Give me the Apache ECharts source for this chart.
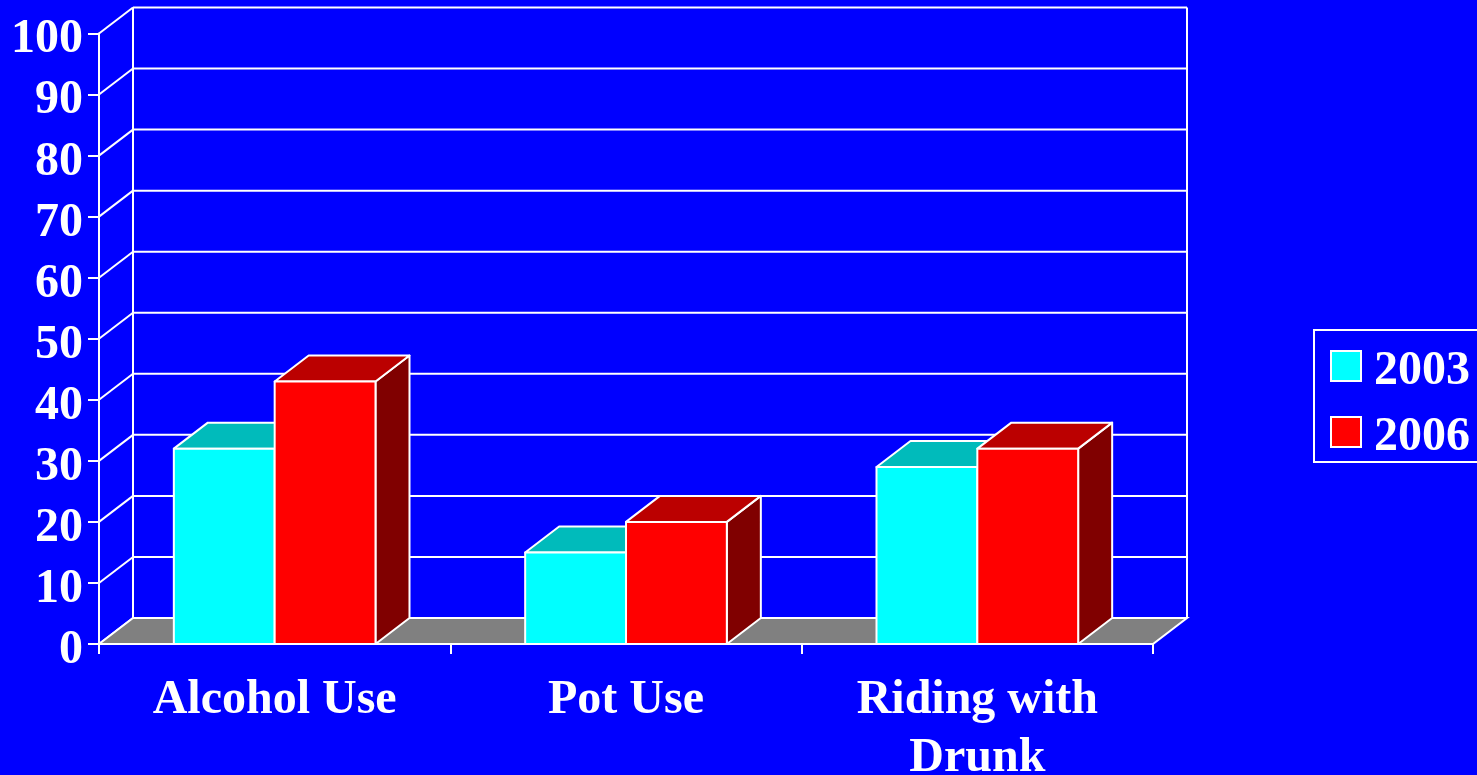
<!DOCTYPE html>
<html>
<head>
<meta charset="utf-8">
<style>html,body{margin:0;padding:0;background:#0000FF;overflow:hidden}#c{width:1477px;height:775px}</style>
<script src="https://cdn.jsdelivr.net/npm/echarts@6/dist/echarts.min.js"></script>
</head>
<body>
<div id="c"></div>
<script>
const categories = ['Alcohol Use', 'Pot Use', 'Riding with\nDrunk'];
const values2003 = [32, 15, 29];
const values2006 = [43, 20, 32];
const yTicks = [0, 10, 20, 30, 40, 50, 60, 70, 80, 90, 100];

const DX = 34, DY = -26;
const BAR_FRACTION = 0.287;
const LINE = { stroke: '#FFFFFF', lineWidth: 2 };
const FONT = 'Liberation Serif';

const chart = echarts.init(document.getElementById('c'));

function seg(x1, y1, x2, y2) {
  return { type: 'line', shape: { x1, y1, x2, y2 }, style: { ...LINE, fill: null } };
}

function renderGrid(params, api) {
  const p = api.coord([0, api.value(0)]);
  const cs = params.coordSys;
  const x0 = cs.x, x1 = cs.x + cs.width;
  const y = p[1];
  const children = [seg(x0, y, x0 + DX, y + DY)];
  if (api.value(0) > 0) children.push(seg(x0 + DX, y + DY, x1 + DX, y + DY));
  return { type: 'group', children };
}

function renderWalls(params, api) {
  const cs = params.coordSys;
  const x0 = cs.x, x1 = cs.x + cs.width;
  const top = api.coord([0, 100])[1], base = api.coord([0, 0])[1];
  return {
    type: 'group',
    children: [
      { type: 'polygon', shape: { points: [[x0, base], [x0 + DX, base + DY], [x1 + DX, base + DY], [x1, base]] },
        style: { fill: '#808080', ...LINE } },
      seg(x0 + DX, top + DY, x0 + DX, base + DY),
      seg(x1 + DX, top + DY, x1 + DX, base + DY)
    ]
  };
}

function barRenderer(side, front, topFace, sideFace) {
  return function (params, api) {
    const p = api.coord([api.value(0), api.value(1)]);
    const b = api.coord([api.value(0), 0]);
    const w = api.size([1, 0])[0] * BAR_FRACTION;
    const xa = side < 0 ? p[0] - w : p[0];
    const xb = xa + w;
    const y = p[1], yb = b[1];
    const poly = (points, fill) => ({ type: 'polygon', shape: { points }, style: { fill, ...LINE, lineJoin: 'round' } });
    return {
      type: 'group',
      children: [
        poly([[xb, y], [xb + DX, y + DY], [xb + DX, yb + DY], [xb, yb]], sideFace),
        poly([[xa, y], [xa + DX, y + DY], [xb + DX, y + DY], [xb, y]], topFace),
        poly([[xa, y], [xb, y], [xb, yb], [xa, yb]], front)
      ]
    };
  };
}

chart.setOption({
  backgroundColor: '#0000FF',
  animation: false,
  grid: { left: 99, width: 1054, top: 33.5, height: 610.5, outerBoundsMode: 'none', containLabel: false },
  legend: {
    left: 1314, top: 330,
    orient: 'vertical',
    data: ['2003', '2006'],
    icon: 'rect',
    itemWidth: 30, itemHeight: 30,
    itemGap: 6,
    padding: [6, 30, 0, 16],
    borderColor: '#FFFFFF', borderWidth: 2,
    backgroundColor: '#0000FF',
    selectedMode: false,
    itemStyle: { borderColor: '#FFFFFF', borderWidth: 2 },
    formatter: '{a|{name}}',
    textStyle: {
      color: '#FFFFFF', fontFamily: FONT, fontWeight: 'bold', fontSize: 48,
      rich: { a: { color: '#FFFFFF', fontFamily: FONT, fontWeight: 'bold', fontSize: 48, lineHeight: 30, padding: [12, 0, 0, 8] } }
    }
  },
  xAxis: {
    type: 'category',
    data: categories,
    axisLine: { show: true, lineStyle: { color: '#FFFFFF', width: 2 } },
    axisTick: { show: true, length: 10, lineStyle: { color: '#FFFFFF', width: 2 } },
    axisLabel: { color: '#FFFFFF', fontFamily: FONT, fontWeight: 'bold', fontSize: 48, lineHeight: 58, margin: 28, interval: 0 },
    splitLine: { show: false }
  },
  yAxis: {
    type: 'value',
    min: 0, max: 100, interval: 10,
    axisLine: { show: true, lineStyle: { color: '#FFFFFF', width: 2 } },
    axisTick: { show: true, length: 11, lineStyle: { color: '#FFFFFF', width: 2 } },
    axisLabel: { color: '#FFFFFF', fontFamily: FONT, fontWeight: 'bold', fontSize: 48, margin: 16, verticalAlign: 'top', lineHeight: 13 },
    splitLine: { show: false }
  },
  series: [
    { type: 'custom', name: 'grid', silent: true, clip: false, renderItem: renderGrid, encode: { y: 0 }, data: yTicks.map(v => [v]) },
    { type: 'custom', name: 'walls', silent: true, clip: false, renderItem: renderWalls, data: [[0]] },
    { type: 'custom', name: '2003', clip: false, itemStyle: { color: '#00FFFF' },
      renderItem: barRenderer(-1, '#00FFFF', '#00BBBB', '#008080'),
      encode: { x: 0, y: 1 }, data: values2003.map((v, i) => [i, v]) },
    { type: 'custom', name: '2006', clip: false, itemStyle: { color: '#FF0000' },
      renderItem: barRenderer(1, '#FF0000', '#BB0000', '#800000'),
      encode: { x: 0, y: 1 }, data: values2006.map((v, i) => [i, v]) }
  ]
});
</script>
</body>
</html>
